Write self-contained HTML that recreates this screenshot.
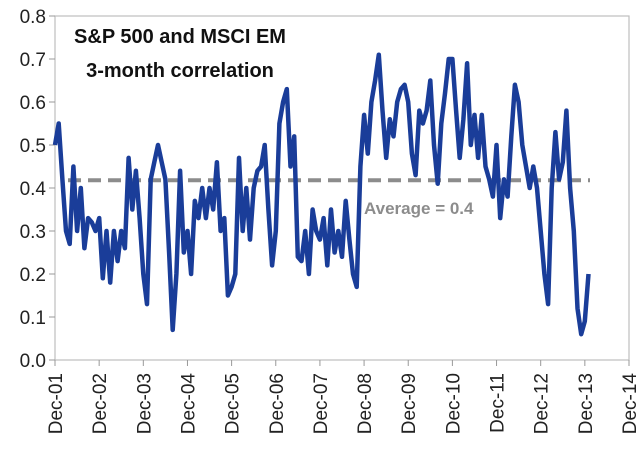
<!DOCTYPE html>
<html><head><meta charset="utf-8"><style>
body{margin:0;background:#fff}
svg{display:block;font-family:"Liberation Sans",sans-serif}
</style></head><body>
<svg id="c" width="640" height="454"></svg>
<script>
const yTicks=[0,0.1,0.2,0.3,0.4,0.5,0.6,0.7,0.8];
const xTickLabels=["Dec-01","Dec-02","Dec-03","Dec-04","Dec-05","Dec-06","Dec-07","Dec-08","Dec-09","Dec-10","Dec-11","Dec-12","Dec-13","Dec-14"];
const average=0.418;
const correlation=[
0.5,0.55,0.42,0.3,0.27,0.45,0.3,0.4,0.26,0.33,0.32,0.3,
0.33,0.19,0.3,0.18,0.3,0.23,0.3,0.26,0.47,0.35,0.44,0.33,
0.2,0.13,0.42,0.46,0.5,0.46,0.42,0.25,0.07,0.2,0.44,0.25,
0.3,0.2,0.37,0.33,0.4,0.33,0.4,0.35,0.46,0.3,0.33,0.15,
0.17,0.2,0.47,0.3,0.4,0.28,0.4,0.44,0.45,0.5,0.35,0.22,
0.3,0.55,0.6,0.63,0.45,0.52,0.24,0.23,0.3,0.2,0.35,0.3,
0.28,0.33,0.22,0.35,0.25,0.3,0.24,0.37,0.28,0.2,0.17,0.45,
0.57,0.48,0.6,0.65,0.71,0.58,0.47,0.56,0.52,0.6,0.63,0.64,
0.6,0.48,0.43,0.58,0.55,0.58,0.65,0.5,0.41,0.55,0.62,0.7,
0.7,0.58,0.47,0.56,0.69,0.5,0.57,0.47,0.57,0.45,0.42,0.38,
0.5,0.33,0.42,0.38,0.52,0.64,0.6,0.5,0.45,0.4,0.45,0.4,
0.3,0.2,0.13,0.4,0.53,0.42,0.46,0.58,0.4,0.3,0.12,0.06,
0.09,0.2];
const NS="http://www.w3.org/2000/svg";
const svg=document.getElementById('c');
const L=55,R=629,T=16,B=360;
const x=t=>L+t*(R-L)/13;
const y=v=>B-v*(B-T)/0.8;
function mk(tag,attrs,parent){const e=document.createElementNS(NS,tag);for(const k in attrs)e.setAttribute(k,attrs[k]);(parent||svg).appendChild(e);return e;}
const frame=mk('rect',{x:L,y:T,width:R-L,height:B-T,fill:'none',stroke:'#bdbdbd','stroke-width':1.2});


yTicks.forEach(v=>{
 const tk=mk('line',{x1:L-6,x2:L,y1:y(v),y2:y(v),stroke:'#999'});
 
 
 const t=mk('text',{x:L-9,y:y(v)+7,'text-anchor':'end','font-size':19,fill:'#222'});
 t.textContent=v.toFixed(1);
 
 
});
xTickLabels.forEach((s,i)=>{
 const tk=mk('line',{x1:x(i),x2:x(i),y1:B,y2:B+6,stroke:'#999'});
 
 
 const t=mk('text',{transform:`translate(${x(i)+7},${B+13}) rotate(-90)`,'text-anchor':'end','font-size':19,fill:'#222'});
 t.textContent=s;
 
 
});
const av=mk('line',{x1:68,x2:590,y1:y(average),y2:y(average),stroke:'#8c8c8c','stroke-width':4,'stroke-dasharray':'13 7'});


const pts=correlation.map((v,i)=>x(i/12).toFixed(1)+','+y(v).toFixed(1)).join(' ');
const line=mk('polyline',{points:pts,fill:'none',stroke:'#1a3d99','stroke-width':4.5,'stroke-linejoin':'round'});


const at=mk('text',{x:364,y:214,'font-size':17,'font-weight':'bold',fill:'#8c8c8c'});
at.textContent='Average = 0.4';


[['S&P 500 and MSCI EM',43],['3-month correlation',77]].forEach(([s,yy])=>{
 const t=mk('text',{x:180,y:yy,'text-anchor':'middle','font-size':20,'font-weight':'bold',fill:'#111'});
 t.textContent=s;
 
 
});
</script>
</body></html>
